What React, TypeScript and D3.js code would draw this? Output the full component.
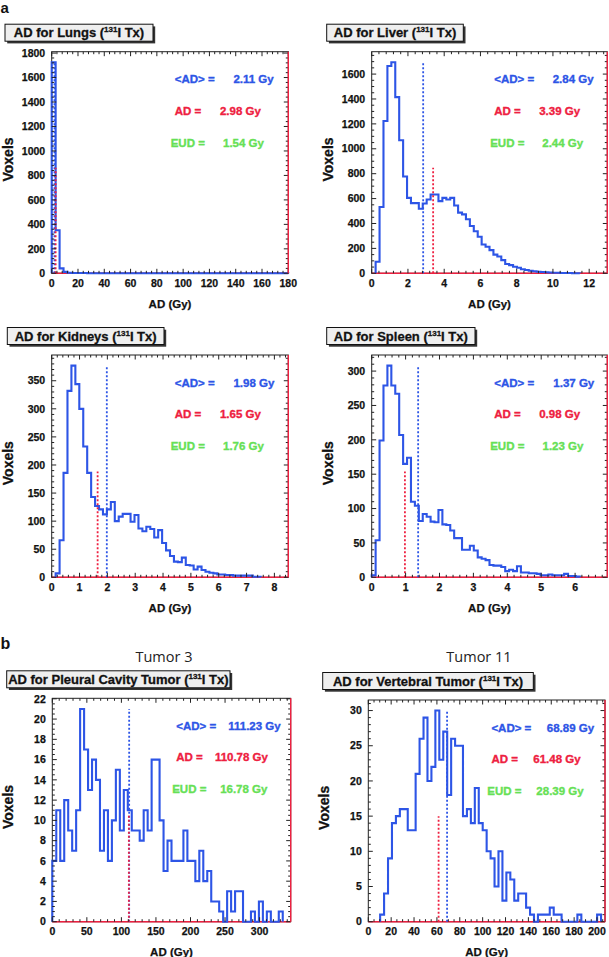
import React from "react";
import * as d3 from "d3";

// ---------- data (60 bins per histogram) ----------
const lungsCounts = [1725, 352, 40, 12, 5, 3, 2, 2, 2, 1, 1, 1, 1, 1, 1, 1, 1, 1, 1, 1, 1, 1, 1, 1, 1, 1, 1, 1, 1, 1, 1, 1, 1, 1, 1, 1, 1, 1, 1, 1, 1, 1, 1, 1, 1, 1, 1, 1, 1, 1, 1, 1, 1, 1, 1, 1, 1, 1, 1, 1];
const liverCounts = [0, 93, 532, 1223, 1665, 1695, 1415, 1069, 777, 606, 564, 564, 519, 560, 593, 633, 633, 580, 606, 593, 606, 545, 487, 473, 434, 380, 338, 293, 231, 213, 186, 150, 135, 106, 75, 66, 53, 45, 32, 27, 21, 16, 13, 11, 8, 6, 5, 4, 3, 2, 2, 1, 1, 0, 0, 0, 0, 0, 0, 0];
const kidneysCounts = [0, 7, 66, 186, 332, 377, 344, 300, 233, 186, 143, 127, 121, 112, 121, 134, 100, 108, 113, 113, 99, 111, 87, 82, 90, 86, 71, 84, 61, 48, 38, 28, 27, 35, 22, 21, 14, 19, 13, 10, 8, 7, 5, 5, 4, 4, 3, 3, 3, 3, 3, 1, 1, 0, 0, 0, 0, 0, 0, 0];
const spleenCounts = [3, 54, 199, 279, 308, 279, 267, 207, 165, 174, 110, 104, 82, 92, 88, 81, 80, 98, 77, 76, 68, 57, 57, 40, 40, 46, 39, 29, 27, 25, 18, 17, 17, 15, 9, 11, 9, 16, 7, 7, 6, 6, 5, 3, 3, 4, 3, 3, 3, 5, 2, 2, 1, 0, 0, 0, 0, 0, 0, 0];
const tumor3Counts = [6, 11, 6, 12, 9, 7, 11, 21, 17, 13, 16, 14, 7, 11, 6, 10, 15, 9, 13, 11, 9, 9, 8, 11, 9, 16, 16, 10, 5, 8, 6, 6, 6, 9, 6, 6, 4, 7, 4, 5, 2, 2, 1, 0, 3, 1, 3, 3, 0, 0, 1, 0, 2, 0, 1, 0, 0, 1, 0, 0];
const tumor11Counts = [0, 0, 0, 1, 4, 9, 14, 15, 16, 16, 13, 13, 21, 26, 29, 20, 22, 30, 23, 27, 18, 26, 25, 25, 15, 16, 14, 19, 14, 13, 10, 9, 5, 10, 3, 7, 6, 3, 4, 4, 2, 1, 0, 1, 1, 1, 2, 1, 1, 0, 0, 0, 0, 1, 0, 0, 0, 0, 1, 0];

const organNames = ["Lungs", "Liver", "Kidneys", "Spleen", "Pleural Cavity Tumor", "Vertebral Tumor"];
const xMaxValues = [180, 13, 8.5, 6.95, 345, 207];
const meanADValues = [2.11, 2.84, 1.98, 1.37, 111.23, 68.89];
const adValues = [2.98, 3.39, 1.65, 0.98, 110.78, 61.48];
const eudValues = [1.54, 2.44, 1.76, 1.23, 16.78, 28.39];
const xTickSteps = [20, 2, 1, 1, 50, 20];
const xMinorSteps = [4, 0.4, 0.2, 0.2, 10, 5];
const yTickSteps = [200, 200, 50, 50, 2, 5];
const yMinorSteps = [40, 50, 10, 10, 0.5, 1];
const tumorLabels = ["Tumor 3", "Tumor 11"];

const COUNTS = [lungsCounts, liverCounts, kidneysCounts, spleenCounts, tumor3Counts, tumor11Counts];

// ---------- layout ----------
const FRAMES = [
  { left: 51.7, top: 51.7, w: 236.6, h: 221.6, boxX: 5, boxW: 148 },
  { left: 371.7, top: 51.7, w: 235.6, h: 221.6, boxX: 326.7, boxW: 136.6 },
  { left: 51.7, top: 355, w: 236.6, h: 222.3, boxX: 7.3, boxW: 156.7 },
  { left: 371.7, top: 355, w: 235.6, h: 222.3, boxX: 326.7, boxW: 148.3 },
  { left: 52.3, top: 698.3, w: 238.4, h: 223.4, boxX: 6.7, boxW: 223.3 },
  { left: 368.3, top: 700, w: 236.7, h: 221.7, boxX: 322.7, boxW: 210.6 },
];
const VALUE_FRACS = [
  [0.768, 0.711, 0.724],
  [0.768, 0.711, 0.724],
  [0.768, 0.711, 0.724],
  [0.771, 0.711, 0.725],
  [0.738, 0.682, 0.704],
  [0.754, 0.697, 0.71],
];
const LABEL_FRACS = [0.52, 0.52, 0.503];
const STAT_Y = [31.5, 63, 95];

const FONT = "'Liberation Sans', Arial, Helvetica, sans-serif";
const BLUE = "#2d55e6";
const RED = "#ee2040";
const GREEN = "#66e055";
const AXIS = "#222";

const fmt = (v: number) => v.toFixed(2);

function Panel({ i }: { i: number }) {
  const f = FRAMES[i];
  const counts = COUNTS[i];
  const n = counts.length;
  const xMax = xMaxValues[i];
  const maxC = d3.max(counts) as number;
  const x = d3.scaleLinear().domain([0, xMax]).range([f.left, f.left + f.w]);
  const y = d3.scaleLinear().domain([0, maxC * 1.05]).range([f.top + f.h, f.top]);
  const bw = xMax / n;
  const bottom = f.top + f.h;
  const right = f.left + f.w;

  const first = counts.findIndex((c) => c > 0);
  let last = n - 1;
  while (last > 0 && counts[last] === 0) last--;
  const pts: [number, number][] = [[x(first * bw), y(0)]];
  for (let k = first; k <= last; k++) {
    pts.push([x(k * bw), y(counts[k])]);
    pts.push([x((k + 1) * bw), y(counts[k])]);
  }
  pts.push([x((last + 1) * bw), y(0)]);
  const histPath = d3.line()(pts) as string;

  const eps = 1e-9;
  const xMajor = d3.range(0, xMax + eps, xTickSteps[i]);
  const xMinor = d3.range(0, xMax + eps, xMinorSteps[i]).filter(
    (v) => Math.abs(v / xTickSteps[i] - Math.round(v / xTickSteps[i])) > 1e-6
  );
  const yMaxDom = maxC * 1.05;
  const yMajor = d3.range(0, yMaxDom + eps, yTickSteps[i]);
  const yMinor = d3.range(0, yMaxDom + eps, yMinorSteps[i]).filter(
    (v) => Math.abs(v / yTickSteps[i] - Math.round(v / yTickSteps[i])) > 1e-6
  );
  const majL = 4.5;
  const minL = 2.5;

  const boxTop = f.top - 27.5;
  const boxH = 17;
  const labelTexts = ["<AD> =", "AD =", "EUD ="];
  const valueTexts = [meanADValues[i], adValues[i], eudValues[i]].map((v) => `${fmt(v)} Gy`);
  const colors = [BLUE, RED, GREEN];
  const thick = (c: string, w = 0.3) => ({ stroke: c, strokeWidth: w, paintOrder: "stroke" as const });

  return (
    <g>
      {/* frame */}
      <rect x={f.left} y={f.top} width={f.w} height={f.h} fill="white" stroke={AXIS} strokeWidth={1} />
      {/* red zero line */}
      <line x1={f.left} x2={right} y1={bottom} y2={bottom} stroke={RED} strokeWidth={1.6} />
      {/* histogram */}
      <path d={histPath} fill="none" stroke={BLUE} strokeWidth={2.1} strokeLinejoin="miter" />
      {/* mean and AD lines */}
      <line x1={x(meanADValues[i])} x2={x(meanADValues[i])} y1={bottom} y2={y(maxC)} stroke={BLUE} strokeWidth={1.8} strokeDasharray="2,2" />
      <line x1={x(adValues[i])} x2={x(adValues[i])} y1={bottom} y2={y(maxC / 2)} stroke={RED} strokeWidth={1.8} strokeDasharray="2,2" />
      {/* ticks */}
      {xMajor.map((v) => (
        <g key={"xM" + v}>
          <line x1={x(v)} x2={x(v)} y1={bottom} y2={bottom - majL} stroke={AXIS} strokeWidth={1} />
          <line x1={x(v)} x2={x(v)} y1={f.top} y2={f.top + majL} stroke={AXIS} strokeWidth={1} />
        </g>
      ))}
      {xMinor.map((v) => (
        <g key={"xm" + v}>
          <line x1={x(v)} x2={x(v)} y1={bottom} y2={bottom - minL} stroke={AXIS} strokeWidth={1} />
          <line x1={x(v)} x2={x(v)} y1={f.top} y2={f.top + minL} stroke={AXIS} strokeWidth={1} />
        </g>
      ))}
      {yMajor.map((v) => (
        <g key={"yM" + v}>
          <line x1={f.left} x2={f.left + majL} y1={y(v)} y2={y(v)} stroke={AXIS} strokeWidth={1} />
          <line x1={right} x2={right - majL} y1={y(v)} y2={y(v)} stroke={AXIS} strokeWidth={1} />
        </g>
      ))}
      {yMinor.map((v) => (
        <g key={"ym" + v}>
          <line x1={f.left} x2={f.left + minL} y1={y(v)} y2={y(v)} stroke={AXIS} strokeWidth={1} />
          <line x1={right} x2={right - minL} y1={y(v)} y2={y(v)} stroke={AXIS} strokeWidth={1} />
        </g>
      ))}
      {/* red right edge */}
      <line x1={right} x2={right} y1={f.top} y2={bottom} stroke={RED} strokeWidth={1.4} />
      {/* tick labels */}
      {xMajor.map((v) => (
        <text key={"xl" + v} x={x(v)} y={bottom + 13.3} textAnchor="middle" fontSize={10.5} fontWeight="bold" fontFamily={FONT} fill="#111" {...thick("#111", 0.25)}>
          {d3.format("~g")(v)}
        </text>
      ))}
      {yMajor.map((v) => (
        <text key={"yl" + v} x={f.left - 6.5} y={y(v) + 3.7} textAnchor="end" fontSize={10.5} fontWeight="bold" fontFamily={FONT} fill="#111" {...thick("#111", 0.25)}>
          {d3.format("~g")(v)}
        </text>
      ))}
      {/* axis titles */}
      <text x={f.left + f.w / 2} y={bottom + 34.3} textAnchor="middle" fontSize={11.5} fontWeight="bold" fontFamily={FONT} fill="#111" {...thick("#111", 0.25)}>
        AD (Gy)
      </text>
      <text
        transform={`translate(${f.left - 39}, ${f.top + f.h / 2 - 3}) rotate(-90)`}
        textAnchor="middle"
        fontSize={14}
        fontWeight="bold"
        fontFamily={FONT}
        fill="#111"
        {...thick("#111", 0.3)}
      >
        Voxels
      </text>
      {/* stats */}
      {labelTexts.map((t, r) => (
        <g key={"st" + r}>
          <text x={f.left + f.w * LABEL_FRACS[r]} y={f.top + STAT_Y[r]} fontSize={11.5} fontWeight="bold" fontFamily={FONT} fill={colors[r]} {...thick(colors[r], 0.35)}>
            {t}
          </text>
          <text x={f.left + f.w * VALUE_FRACS[i][r]} y={f.top + STAT_Y[r]} fontSize={11.5} fontWeight="bold" fontFamily={FONT} fill={colors[r]} {...thick(colors[r], 0.35)}>
            {valueTexts[r]}
          </text>
        </g>
      ))}
      {/* title box */}
      <rect x={f.boxX + 2.2} y={boxTop + 2.2} width={f.boxW} height={boxH} fill="#333" />
      <rect x={f.boxX} y={boxTop} width={f.boxW} height={boxH} fill="#efefef" stroke="#111" strokeWidth={1} />
      <text x={f.boxX + f.boxW / 2} y={boxTop + boxH / 2 + 4.6} textAnchor="middle" fontSize={13} fontWeight="bold" fontFamily={FONT} fill="#111" {...thick("#111", 0.3)}>
        <tspan>{`AD for ${organNames[i]} (`}</tspan>
        <tspan fontSize={8} dy={-5}>131</tspan>
        <tspan dy={5}>I Tx)</tspan>
      </text>
    </g>
  );
}

export default function App() {
  return (
    <div style={{ position: "absolute", left: 0, top: 0 }}>
      <svg width={609} height={957} viewBox="0 0 609 957" style={{ display: "block", background: "white" }}>
        <rect x={0} y={0} width={609} height={957} fill="white" />
        <text x={0.5} y={12.5} fontSize={15} fontWeight="bold" fontFamily={FONT} fill="#111">a</text>
        <text x={0.5} y={649} fontSize={16} fontWeight="bold" fontFamily={FONT} fill="#111">b</text>
        <text x={164} y={661.5} textAnchor="middle" fontSize={14.5} fontFamily="'Open Sans', sans-serif" fill="#222">
          {tumorLabels[0]}
        </text>
        <text x={479} y={661.5} textAnchor="middle" fontSize={14.5} fontFamily="'Open Sans', sans-serif" fill="#222">
          {tumorLabels[1]}
        </text>
        {FRAMES.map((_, i) => (
          <Panel key={i} i={i} />
        ))}
      </svg>
    </div>
  );
}
